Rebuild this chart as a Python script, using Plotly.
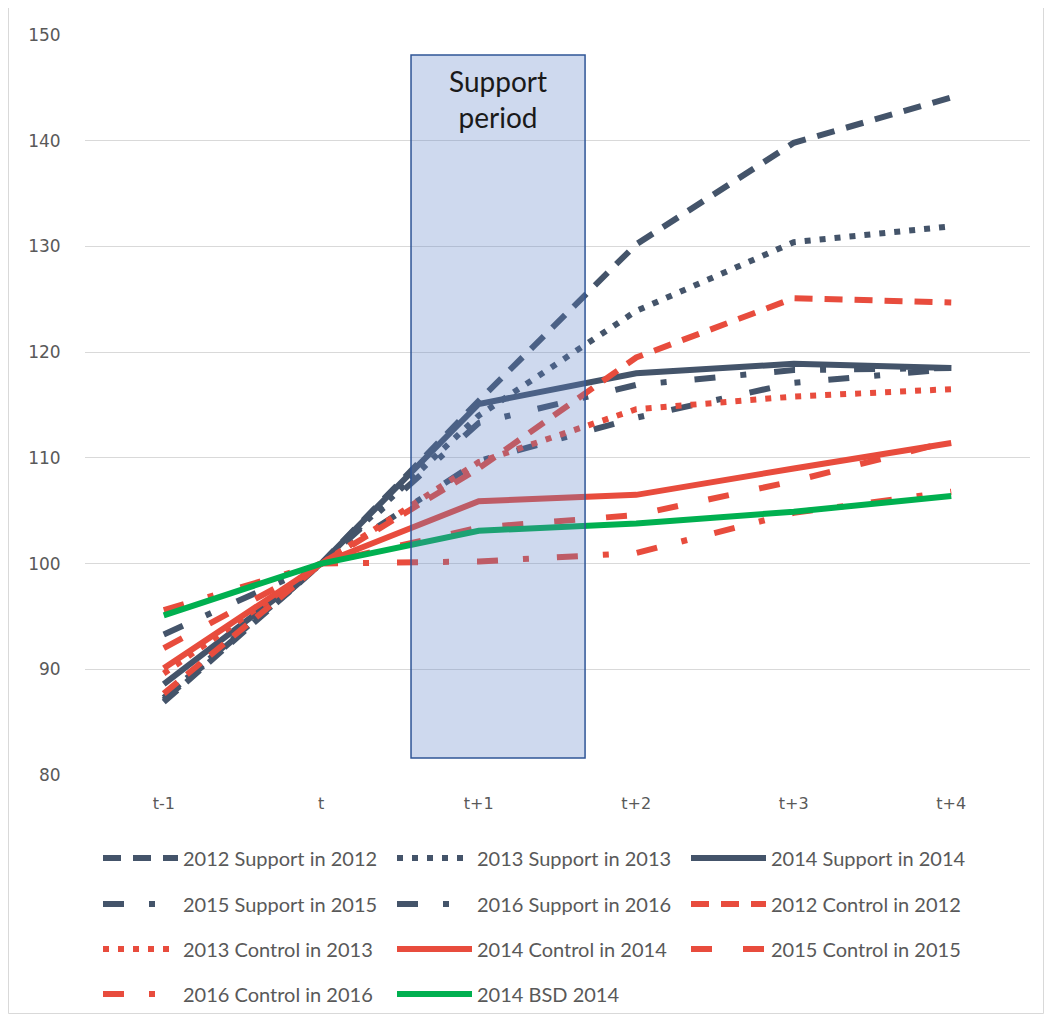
import plotly.graph_objects as go

categories = ["t-1", "t", "t+1", "t+2", "t+3", "t+4"]

support_2012 = [86.9, 100, 115.4, 130.2, 139.8, 144.1]
support_2013 = [87.3, 100, 114.0, 123.9, 130.4, 131.9]
support_2014 = [88.6, 100, 115.1, 118.0, 118.9, 118.5]
support_2015 = [93.3, 100, 109.7, 113.8, 117.1, 118.4]
support_2016 = [87.1, 100, 113.3, 116.9, 118.3, 118.5]
control_2012 = [87.7, 100, 109.0, 119.5, 125.1, 124.7]
control_2013 = [89.6, 100, 109.6, 114.6, 115.8, 116.5]
control_2014 = [90.1, 100, 105.9, 106.5, 109.0, 111.4]
control_2015 = [92.0, 100, 103.4, 104.6, 107.8, 111.6]
control_2016 = [95.6, 100, 100.2, 101.0, 104.8, 106.8]
bsd_2014 = [95.1, 100, 103.1, 103.8, 104.9, 106.4]

DARK = "#44546A"
RED = "#E84C3D"
GREEN = "#00B050"

DASH = "18px,12px"
DOT = "6px,9px"
DASHDOT = "21px,25px,6px,28px"
LONGDASH = "21px,31px"

series = [
    ("2012 Support in 2012", support_2012, DARK, DASH, "legend"),
    ("2013 Support in 2013", support_2013, DARK, DOT, "legend"),
    ("2014 Support in 2014", support_2014, DARK, "solid", "legend"),
    ("2015 Support in 2015", support_2015, DARK, DASHDOT, "legend2"),
    ("2016 Support in 2016", support_2016, DARK, DASHDOT, "legend2"),
    ("2012 Control in 2012", control_2012, RED, DASH, "legend2"),
    ("2013 Control in 2013", control_2013, RED, DOT, "legend3"),
    ("2014 Control in 2014", control_2014, RED, "solid", "legend3"),
    ("2015 Control in 2015", control_2015, RED, LONGDASH, "legend3"),
    ("2016 Control in 2016", control_2016, RED, DASHDOT, "legend4"),
    ("2014 BSD 2014", bsd_2014, GREEN, "solid", "legend4"),
]

fig = go.Figure()
for name, vals, color, dash, leg in series:
    fig.add_trace(go.Scatter(
        x=categories, y=vals, name=name, mode="lines",
        line=dict(color=color, width=6, dash=dash),
        legend=leg,
    ))

# page body has an 8px margin: work in absolute page pixels and convert
OFF = 8
W, H = 1036, 1007
L, R, T, B = 77, 14, 27, 240
pw = W - L - R
ph = H - T - B


def px_x(p):
    return (p - OFF - L) / pw


def px_y(p):
    return (H - B - (p - OFF)) / ph


FONT = "Lato"
TXT = "#595959"

# Support period box (drawn over the lines, semi-transparent)
fig.add_shape(type="rect", xref="x", yref="y",
              x0=1.57, x1=2.675, y0=81.6, y1=148.1,
              fillcolor="rgba(92,128,198,0.30)",
              line=dict(color="#2F5597", width=1.5), layer="above")
fig.add_annotation(x=2.12, y=147.4, xref="x", yref="y",
                   text="Support<br>period", showarrow=False,
                   yanchor="top",
                   font=dict(family=FONT, size=28, color="#1a1a1a"))

# outer chart border
fig.add_shape(type="rect", xref="paper", yref="paper",
              x0=px_x(8.5), x1=px_x(1043.5), y0=px_y(1013.5), y1=px_y(7.5),
              line=dict(color="#D9D9D9", width=1), fillcolor="rgba(0,0,0,0)",
              layer="below")

leg_common = dict(orientation="h", x=px_x(98), xanchor="left", yanchor="middle",
                  entrywidth=204, entrywidthmode="pixels", itemwidth=75,
                  font=dict(family=FONT, size=20, color=TXT),
                  bgcolor="rgba(0,0,0,0)", traceorder="normal")

fig.update_layout(
    width=W, height=H,
    margin=dict(l=L, r=R, t=T, b=B, autoexpand=False),
    paper_bgcolor="white", plot_bgcolor="white",
    showlegend=True,
    legend=dict(leg_common, y=px_y(858)),
    legend2=dict(leg_common, y=px_y(904)),
    legend3=dict(leg_common, y=px_y(949)),
    legend4=dict(leg_common, y=px_y(994)),
    xaxis=dict(type="category", range=[-0.5, 5.5], showgrid=False,
               showline=False, zeroline=False,
               ticks="outside", ticklen=14, tickcolor="rgba(0,0,0,0)",
               tickfont=dict(family="DejaVu Sans", size=16, color=TXT)),
    yaxis=dict(range=[80, 150], dtick=10, showgrid=True,
               gridcolor="#D9D9D9", gridwidth=1, zeroline=False,
               showline=False,
               ticks="outside", ticklen=20, tickcolor="rgba(0,0,0,0)",
               tickfont=dict(family="DejaVu Sans", size=17, color=TXT)),
)

fig.write_html("out.html")
